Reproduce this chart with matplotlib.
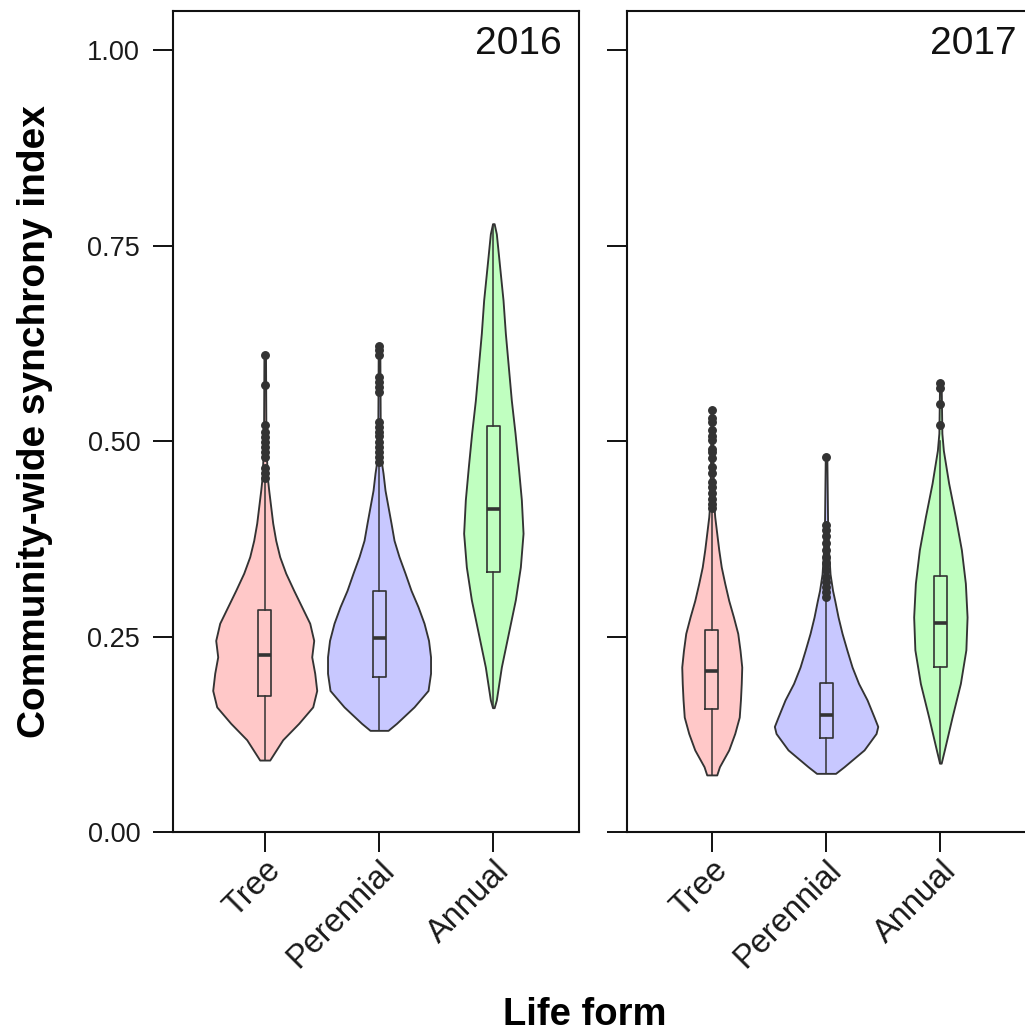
import matplotlib
matplotlib.use('Agg')
import matplotlib.pyplot as plt
import numpy as np

plt.rcParams['font.family'] = ['Liberation Sans', 'DejaVu Sans']

categories = ['Tree', 'Perennial', 'Annual']
years = ['2016', '2017']
fills = ['#FFC8C8', '#C8C8FF', '#C0FFC0']

# violin outlines: synchrony value, relative density (half width)
tree16_y = [0.092, 0.100, 0.118, 0.139, 0.160, 0.181, 0.203, 0.224, 0.245, 0.267, 0.288,
            0.309, 0.331, 0.352, 0.373, 0.395, 0.416, 0.437, 0.455, 0.50, 0.61]
tree16_d = [5, 9, 18, 34, 48, 52, 50, 47, 49, 45, 37, 29, 21, 15, 11, 8, 6, 4, 2.5, 1.2, 0.8]
per16_y = [0.130, 0.139, 0.160, 0.181, 0.203, 0.224, 0.245, 0.267, 0.288, 0.309, 0.331,
           0.352, 0.373, 0.395, 0.416, 0.437, 0.459, 0.472, 0.52, 0.62]
per16_d = [9, 17.5, 35, 49, 51.5, 51.5, 49.5, 45, 39, 32, 26, 20, 15, 12, 9, 6, 4, 2.5, 1.2, 0.8]
ann16_y = [0.159, 0.169, 0.211, 0.254, 0.297, 0.339, 0.382, 0.425, 0.467, 0.510, 0.552,
           0.595, 0.638, 0.680, 0.723, 0.765, 0.778]
ann16_d = [0.8, 3, 8, 15, 22, 27, 29.7, 28, 25, 21.7, 18, 15, 12, 9.7, 6.3, 3, 0.8]

tree17_y = [0.073, 0.0835, 0.105, 0.126, 0.147, 0.169, 0.190, 0.211, 0.232, 0.254, 0.275,
            0.296, 0.318, 0.339, 0.361, 0.382, 0.403, 0.42, 0.47, 0.54]
tree17_d = [5, 7.7, 17, 23, 27.5, 28.7, 29.5, 30, 28.3, 26, 21.7, 17, 13, 9.5, 7, 5, 3, 2, 1.2, 0.8]
per17_y = [0.075, 0.0835, 0.105, 0.126, 0.135, 0.147, 0.169, 0.190, 0.211, 0.232, 0.254,
           0.275, 0.296, 0.309, 0.33, 0.36, 0.40, 0.48]
per17_d = [9.5, 18, 38, 50, 51.7, 48, 41, 32.5, 26, 21, 16, 12, 8.7, 6.5, 4, 2.5, 1.5, 0.8]
ann17_y = [0.088, 0.105, 0.147, 0.190, 0.233, 0.275, 0.318, 0.361, 0.403, 0.446, 0.488,
           0.51, 0.574]
ann17_d = [0.8, 4, 11.7, 20, 25.5, 26.7, 25, 21, 15, 8.3, 3, 1.5, 0.8]

# boxes: q1, median, q3, lower whisker, upper whisker
tree16_box = [0.174, 0.227, 0.284, 0.092, 0.450]
per16_box = [0.198, 0.248, 0.308, 0.130, 0.470]
ann16_box = [0.332, 0.413, 0.519, 0.160, 0.776]
tree17_box = [0.157, 0.206, 0.258, 0.073, 0.410]
per17_box = [0.120, 0.150, 0.191, 0.075, 0.298]
ann17_box = [0.211, 0.267, 0.327, 0.088, 0.500]

tree16_out = [0.610, 0.572, 0.520, 0.512, 0.505, 0.499, 0.493, 0.486, 0.480, 0.465, 0.459, 0.453]
per16_out = [0.621, 0.616, 0.610, 0.582, 0.576, 0.569, 0.563, 0.525, 0.518, 0.512, 0.506,
             0.499, 0.493, 0.486, 0.480, 0.473]
ann16_out = []
tree17_out = [0.540, 0.529, 0.525, 0.514, 0.506, 0.501, 0.490, 0.486, 0.478, 0.467, 0.459,
              0.448, 0.441, 0.433, 0.426, 0.420, 0.414]
per17_out = [0.480, 0.393, 0.386, 0.378, 0.369, 0.361, 0.352, 0.344, 0.335, 0.326, 0.320,
             0.313, 0.307, 0.301]
ann17_out = [0.574, 0.568, 0.548, 0.520]

panels = {
    '2016': [(tree16_y, tree16_d, tree16_box, tree16_out),
             (per16_y, per16_d, per16_box, per16_out),
             (ann16_y, ann16_d, ann16_box, ann16_out)],
    '2017': [(tree17_y, tree17_d, tree17_box, tree17_out),
             (per17_y, per17_d, per17_box, per17_out),
             (ann17_y, ann17_d, ann17_box, ann17_out)],
}

W, H = 1025, 1032
PX = 1 / 114.3   # data units per pixel along x
dark = '#333333'

fig = plt.figure(figsize=(W / 100, H / 100), dpi=100)
ax1 = fig.add_axes([172.7 / W, 200 / H, 406.6 / W, 821 / H])
ax2 = fig.add_axes([626.7 / W, 200 / H, 406.6 / W, 821 / H])
xlims = [(0.195, 3.752), (0.256, 3.813)]

pos = [1, 2, 3]
for ax, year, xl in zip([ax1, ax2], years, xlims):
    vstats, widths, bstats = [], [], []
    for yy, dd, bx, out in panels[year]:
        yy = np.array(yy)
        dd = np.array(dd, dtype=float)
        vstats.append({'coords': yy, 'vals': dd, 'mean': bx[1], 'median': bx[1],
                       'min': yy.min(), 'max': yy.max()})
        widths.append(2 * dd.max() * PX)
        bstats.append({'q1': bx[0], 'med': bx[1], 'q3': bx[2],
                       'whislo': bx[3], 'whishi': bx[4], 'fliers': out})
    parts = ax.violin(vstats, positions=pos, widths=widths, showmeans=False,
                      showextrema=False, showmedians=False)
    for body, c in zip(parts['bodies'], fills):
        body.set_facecolor(c)
        body.set_edgecolor(dark)
        body.set_linewidth(1.35)
        body.set_alpha(1)
    ax.bxp(bstats, positions=pos, widths=13 * PX, showcaps=False, manage_ticks=False,
           boxprops=dict(color=dark, linewidth=1.2),
           whiskerprops=dict(color=dark, linewidth=1.1),
           medianprops=dict(color=dark, linewidth=2.6, solid_capstyle='butt'),
           flierprops=dict(marker='o', markerfacecolor=dark, markeredgecolor=dark,
                           markersize=5.4, linestyle='none'))

    ax.set_xlim(*xl)
    ax.set_ylim(0, 1.05)
    ax.set_xticks(pos)
    ax.set_xticklabels(categories, rotation=45, ha='right', va='top',
                       rotation_mode='anchor', fontsize=23.5, color='#1a1a1a')
    ax.set_yticks([0, 0.25, 0.5, 0.75, 1.0])
    ax.set_yticklabels(['0.00', '0.25', '0.50', '0.75', '1.00'], fontsize=19.5, color='#1a1a1a')
    ax.tick_params(length=14.4, width=1.4, color='#111111')
    ax.tick_params(axis='y', pad=9)
    ax.tick_params(axis='x', pad=2)
    for s in ax.spines.values():
        s.set_linewidth(1.5)
        s.set_color('#111111')
    ax.text(0.958, 0.948, year, transform=ax.transAxes, ha='right', va='baseline',
            fontsize=28, color='#111111')

ax2.set_yticklabels([])

fig.text(35 / W, 1 - 421.5 / H, 'Community-wide synchrony index', rotation=90,
         ha='center', va='center', fontsize=28, fontweight='bold')
fig.text(585 / W, 7 / H, 'Life form', ha='center', va='baseline',
         fontsize=27.5, fontweight='bold')

fig.savefig('out.png', dpi=100)
